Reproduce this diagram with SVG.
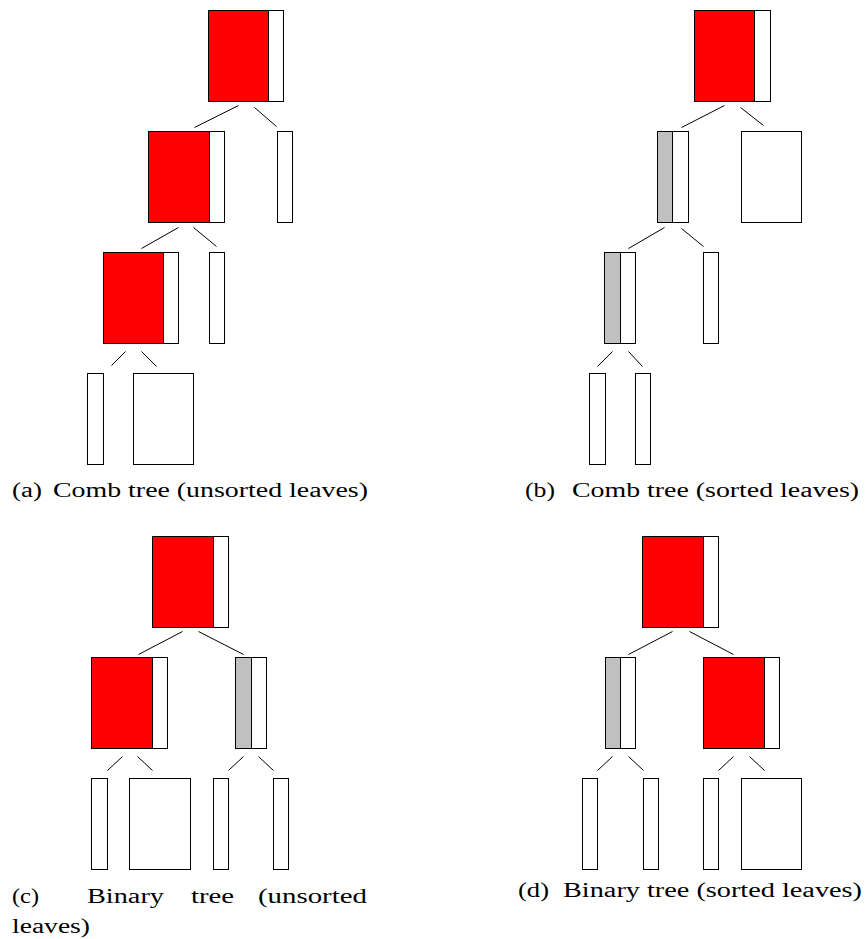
<svg xmlns="http://www.w3.org/2000/svg" width="865" height="939" viewBox="0 0 865 939">
<style>
  .r { fill: #ff0000; stroke: #000; stroke-width: 1; }
  .g { fill: #c0c0c0; stroke: #000; stroke-width: 1; }
  .w { fill: #ffffff; stroke: #000; stroke-width: 1; }
  .e { stroke: #000; stroke-width: 1; fill: none; }
  text { font-family: "Liberation Serif", "DejaVu Serif", serif; font-size: 20.5px; fill: #000; }
</style>
<rect width="865" height="939" fill="#fff"/>
<g transform="translate(0.5 0.5)">
  <!-- (a) Comb tree unsorted -->
  <g id="a-root"><rect class="r" x="208" y="10" width="60" height="91"/><rect class="w" x="268" y="10" width="15" height="91"/></g>
  <g id="a-n1"><rect class="r" x="148" y="131" width="61" height="91"/><rect class="w" x="209" y="131" width="15" height="91"/></g>
  <g id="a-l1"><rect class="w" x="277" y="131" width="15" height="91"/></g>
  <g id="a-n2"><rect class="r" x="103" y="252" width="60" height="91"/><rect class="w" x="163" y="252" width="15" height="91"/></g>
  <g id="a-l2"><rect class="w" x="209" y="252" width="15" height="91"/></g>
  <g id="a-l3"><rect class="w" x="87" y="373" width="16" height="91"/></g>
  <g id="a-l4"><rect class="w" x="133" y="373" width="60" height="91"/></g>

  <!-- (b) Comb tree sorted -->
  <g id="b-root"><rect class="r" x="694" y="10" width="60" height="91"/><rect class="w" x="754" y="10" width="16" height="91"/></g>
  <g id="b-n1"><rect class="g" x="657" y="131" width="15" height="91"/><rect class="w" x="672" y="131" width="16" height="91"/></g>
  <g id="b-l1"><rect class="w" x="741" y="131" width="60" height="91"/></g>
  <g id="b-n2"><rect class="g" x="604" y="252" width="16" height="91"/><rect class="w" x="620" y="252" width="15" height="91"/></g>
  <g id="b-l2"><rect class="w" x="703" y="252" width="15" height="91"/></g>
  <g id="b-l3"><rect class="w" x="589" y="373" width="16" height="91"/></g>
  <g id="b-l4"><rect class="w" x="635" y="373" width="15" height="91"/></g>

  <!-- (c) Binary tree unsorted -->
  <g id="c-root"><rect class="r" x="152" y="536" width="61" height="91"/><rect class="w" x="213" y="536" width="15" height="91"/></g>
  <g id="c-n1"><rect class="r" x="91" y="657" width="61" height="91"/><rect class="w" x="152" y="657" width="15" height="91"/></g>
  <g id="c-n2"><rect class="g" x="235" y="657" width="16" height="91"/><rect class="w" x="251" y="657" width="15" height="91"/></g>
  <g id="c-l1"><rect class="w" x="91" y="778" width="16" height="91"/></g>
  <g id="c-l2"><rect class="w" x="129" y="778" width="61" height="91"/></g>
  <g id="c-l3"><rect class="w" x="213" y="778" width="15" height="91"/></g>
  <g id="c-l4"><rect class="w" x="273" y="778" width="15" height="91"/></g>

  <!-- (d) Binary tree sorted -->
  <g id="d-root"><rect class="r" x="642" y="536" width="61" height="91"/><rect class="w" x="703" y="536" width="15" height="91"/></g>
  <g id="d-n1"><rect class="g" x="605" y="657" width="15" height="91"/><rect class="w" x="620" y="657" width="15" height="91"/></g>
  <g id="d-n2"><rect class="r" x="703" y="657" width="61" height="91"/><rect class="w" x="764" y="657" width="15" height="91"/></g>
  <g id="d-l1"><rect class="w" x="582" y="778" width="15" height="91"/></g>
  <g id="d-l2"><rect class="w" x="643" y="778" width="15" height="91"/></g>
  <g id="d-l3"><rect class="w" x="703" y="778" width="15" height="91"/></g>
  <g id="d-l4"><rect class="w" x="741" y="778" width="60" height="91"/></g>

  <g id="connectors">
    <line class="e" x1="238" y1="105" x2="194" y2="127"/>
    <line class="e" x1="254" y1="107" x2="276" y2="126"/>
    <line class="e" x1="178" y1="227" x2="141" y2="248"/>
    <line class="e" x1="193" y1="227" x2="216" y2="246"/>
    <line class="e" x1="125" y1="351" x2="111" y2="365"/>
    <line class="e" x1="141" y1="351" x2="156" y2="366"/>

    <line class="e" x1="724" y1="105" x2="681" y2="127"/>
    <line class="e" x1="740" y1="107" x2="763" y2="125"/>
    <line class="e" x1="664" y1="227" x2="628" y2="248"/>
    <line class="e" x1="681" y1="228" x2="703" y2="246"/>
    <line class="e" x1="612" y1="351" x2="597" y2="366"/>
    <line class="e" x1="628" y1="351" x2="642" y2="366"/>

    <line class="e" x1="182" y1="631" x2="138" y2="654"/>
    <line class="e" x1="198" y1="631" x2="243" y2="654"/>
    <line class="e" x1="122" y1="756" x2="107" y2="770"/>
    <line class="e" x1="137" y1="756" x2="152" y2="770"/>
    <line class="e" x1="243" y1="756" x2="228" y2="770"/>
    <line class="e" x1="258" y1="756" x2="273" y2="770"/>

    <line class="e" x1="672" y1="631" x2="628" y2="654"/>
    <line class="e" x1="689" y1="631" x2="733" y2="654"/>
    <line class="e" x1="612" y1="756" x2="597" y2="770"/>
    <line class="e" x1="628" y1="756" x2="643" y2="770"/>
    <line class="e" x1="733" y1="756" x2="718" y2="770"/>
    <line class="e" x1="749" y1="756" x2="764" y2="770"/>
  </g>
</g>
<g id="captions">
  <text x="12" y="497" textLength="30" lengthAdjust="spacingAndGlyphs">(a)</text>
  <text x="53" y="497" textLength="315" lengthAdjust="spacingAndGlyphs">Comb tree (unsorted leaves)</text>
  <text x="525" y="497" textLength="30" lengthAdjust="spacingAndGlyphs">(b)</text>
  <text x="572" y="497" textLength="287" lengthAdjust="spacingAndGlyphs">Comb tree (sorted leaves)</text>
  <text x="12" y="903" textLength="27" lengthAdjust="spacingAndGlyphs">(c)</text>
  <text x="87" y="903" textLength="77" lengthAdjust="spacingAndGlyphs">Binary</text>
  <text x="191" y="903" textLength="43" lengthAdjust="spacingAndGlyphs">tree</text>
  <text x="258" y="903" textLength="109" lengthAdjust="spacingAndGlyphs">(unsorted</text>
  <text x="12" y="933" textLength="78" lengthAdjust="spacingAndGlyphs">leaves)</text>
  <text x="518" y="897" textLength="31" lengthAdjust="spacingAndGlyphs">(d)</text>
  <text x="563" y="897" textLength="299" lengthAdjust="spacingAndGlyphs">Binary tree (sorted leaves)</text>
</g>
</svg>
